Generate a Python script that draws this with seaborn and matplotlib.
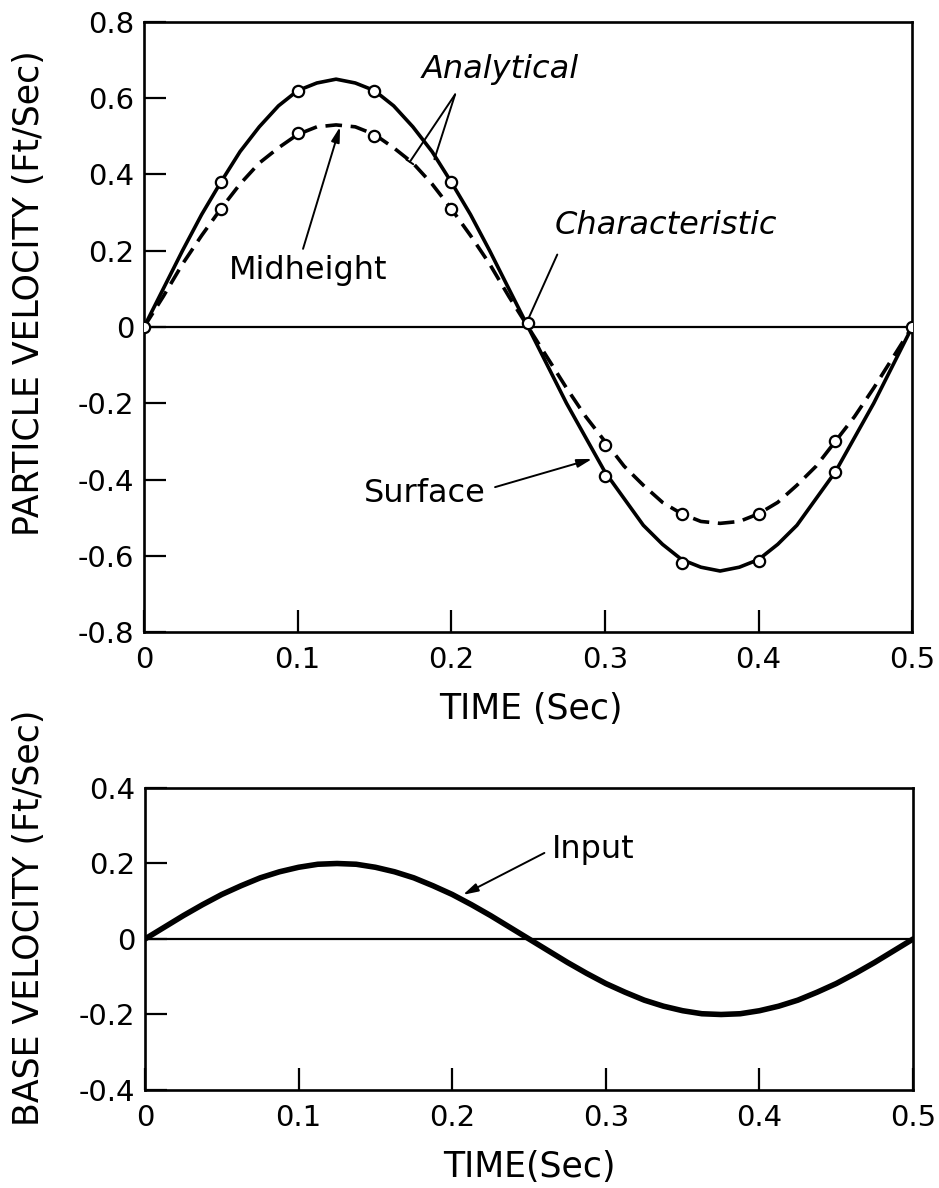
import numpy as np
import pandas as pd
import matplotlib
matplotlib.use("Agg")
import matplotlib.pyplot as plt
import seaborn as sns

# ---------------- data ----------------
t_line = [round(i * 0.0125, 4) for i in range(41)]

surface = [0.0, 0.10, 0.20, 0.295, 0.38, 0.46, 0.525, 0.58, 0.62, 0.64,
           0.65, 0.64, 0.62, 0.58, 0.525, 0.46, 0.38, 0.295, 0.20, 0.10,
           0.0, -0.10, -0.20, -0.29, -0.38, -0.45, -0.52, -0.57, -0.61, -0.63,
           -0.64, -0.63, -0.61, -0.57, -0.52, -0.45, -0.38, -0.29, -0.20, -0.10, 0.0]

midheight = [0.0, 0.08, 0.165, 0.24, 0.31, 0.375, 0.43, 0.47, 0.505, 0.525,
             0.53, 0.525, 0.505, 0.47, 0.43, 0.375, 0.31, 0.24, 0.165, 0.08,
             0.0, -0.08, -0.16, -0.235, -0.30, -0.365, -0.415, -0.46, -0.49, -0.51,
             -0.515, -0.51, -0.49, -0.46, -0.415, -0.365, -0.30, -0.235, -0.16, -0.08, 0.0]

base_input = [0.0, 0.031, 0.062, 0.091, 0.118, 0.141, 0.162, 0.178, 0.19, 0.198,
              0.2, 0.198, 0.19, 0.178, 0.162, 0.141, 0.118, 0.091, 0.062, 0.031,
              0.0, -0.031, -0.062, -0.091, -0.118, -0.141, -0.162, -0.178, -0.19, -0.198,
              -0.2, -0.198, -0.19, -0.178, -0.162, -0.141, -0.118, -0.091, -0.062, -0.031, 0.0]

t_surf_pts = [0.0, 0.05, 0.10, 0.15, 0.20, 0.25, 0.30, 0.35, 0.40, 0.45, 0.50]
surf_pts = [0.0, 0.38, 0.62, 0.62, 0.38, 0.01, -0.39, -0.62, -0.615, -0.38, 0.0]

t_mid_pts = [0.05, 0.10, 0.15, 0.20, 0.30, 0.35, 0.40, 0.45]
mid_pts = [0.31, 0.51, 0.50, 0.31, -0.31, -0.49, -0.49, -0.30]

top_yticks = [0.8, 0.6, 0.4, 0.2, 0.0, -0.2, -0.4, -0.6, -0.8]
top_ylabels = ["0.8", "0.6", "0.4", "0.2", "0", "-0.2", "-0.4", "-0.6", "-0.8"]
bot_yticks = [0.4, 0.2, 0.0, -0.2, -0.4]
bot_ylabels = ["0.4", "0.2", "0", "-0.2", "-0.4"]
xticks = [0.0, 0.1, 0.2, 0.3, 0.4, 0.5]
xlabels = ["0", "0.1", "0.2", "0.3", "0.4", "0.5"]

# ---------------- style ----------------
sns.set_style("ticks")
plt.rcParams["font.family"] = ["DejaVu Sans"]
plt.rcParams["text.color"] = "black"
plt.rcParams["axes.labelcolor"] = "black"
plt.rcParams["axes.edgecolor"] = "black"
plt.rcParams["axes.linewidth"] = 1.9

fig = plt.figure(figsize=(9.39, 11.88), dpi=100)
ax1 = fig.add_axes([0.1534, 0.468, 0.818, 0.5135])
ax2 = fig.add_axes([0.1544, 0.0825, 0.818, 0.2542])

df_line = pd.DataFrame({"t": t_line, "surface": surface,
                        "midheight": midheight, "input": base_input})

ANN = 23
LAB = 25
TCK = 21

# ---- top panel ----
ax1.axhline(0, color="black", lw=1.6, zorder=1)
sns.lineplot(data=df_line, x="t", y="surface", ax=ax1, color="black",
             lw=2.6, zorder=2)
sns.lineplot(data=df_line, x="t", y="midheight", ax=ax1, color="black",
             lw=2.6, zorder=2)
ax1.lines[-1].set_dashes([4.6, 2.4])
sns.scatterplot(x=t_surf_pts, y=surf_pts, ax=ax1, marker="o", s=66,
                facecolor="white", edgecolor="black", linewidth=1.6, zorder=4)
sns.scatterplot(x=t_mid_pts, y=mid_pts, ax=ax1, marker="o", s=66,
                facecolor="white", edgecolor="black", linewidth=1.6, zorder=4)

ax1.set_xlim(0, 0.5)
ax1.set_ylim(-0.8, 0.8)
ax1.set_xticks(xticks, xlabels)
ax1.set_yticks(top_yticks, top_ylabels)
ax1.set_xlabel("TIME (Sec)", fontsize=LAB)
ax1.set_ylabel("PARTICLE VELOCITY (Ft/Sec)", fontsize=LAB)
ax1.xaxis.set_label_coords(0.503, -0.098)
ax1.yaxis.set_label_coords(-0.128, 0.555)

# annotations top
ax1.text(0.2322, 0.675, "Analytical", fontsize=ANN, style="italic", ha="center", va="center")
ax1.annotate("", xy=(0.173, 0.433), xytext=(0.2025, 0.61),
             arrowprops=dict(arrowstyle="-[,widthB=0.3,lengthB=0.0",
                             color="black", lw=1.4, shrinkA=0, shrinkB=0))
ax1.annotate("", xy=(0.189, 0.44), xytext=(0.2025, 0.61),
             arrowprops=dict(arrowstyle="-", color="black", lw=1.4, shrinkA=0, shrinkB=0))
ax1.text(0.107, 0.147, "Midheight", fontsize=ANN, ha="center", va="center")
ax1.annotate("", xy=(0.1276, 0.525), xytext=(0.1035, 0.205),
             arrowprops=dict(arrowstyle="-|>,head_length=0.9,head_width=0.25",
                             color="black", lw=1.4, shrinkA=0, shrinkB=0))
ax1.text(0.34, 0.265, "Characteristic", fontsize=ANN, style="italic", ha="center", va="center")
ax1.annotate("", xy=(0.25, 0.02), xytext=(0.269, 0.19),
             arrowprops=dict(arrowstyle="-", color="black", lw=1.4, shrinkA=0, shrinkB=0))
ax1.text(0.2225, -0.438, "Surface", fontsize=ANN, ha="right", va="center")
ax1.annotate("", xy=(0.2917, -0.346), xytext=(0.2285, -0.42),
             arrowprops=dict(arrowstyle="-|>,head_length=0.9,head_width=0.25",
                             color="black", lw=1.4, shrinkA=0, shrinkB=0))

# ---- bottom panel ----
ax2.axhline(0, color="black", lw=1.6, zorder=1)
sns.lineplot(data=df_line, x="t", y="input", ax=ax2, color="black",
             lw=4.0, zorder=2)
ax2.set_xlim(0, 0.5)
ax2.set_ylim(-0.4, 0.4)
ax2.set_xticks(xticks, xlabels)
ax2.set_yticks(bot_yticks, bot_ylabels)
ax2.set_xlabel("TIME(Sec)", fontsize=LAB)
ax2.set_ylabel("BASE VELOCITY (Ft/Sec)", fontsize=LAB)
ax2.xaxis.set_label_coords(0.5, -0.2)
ax2.yaxis.set_label_coords(-0.129, 0.57)

ax2.text(0.265, 0.236, "Input", fontsize=ANN, ha="left", va="center")
ax2.annotate("", xy=(0.207, 0.117), xytext=(0.26, 0.228),
             arrowprops=dict(arrowstyle="-|>,head_length=0.9,head_width=0.25",
                             color="black", lw=1.4, shrinkA=0, shrinkB=0))

for ax in (ax1, ax2):
    for s in ax.spines.values():
        s.set_visible(True)
        s.set_linewidth(1.9)
        s.set_color("black")
    ax.tick_params(axis="both", direction="in", labelsize=TCK, width=1.6,
                   color="black", labelcolor="black", length=16)
    ax.tick_params(axis="x", pad=10)
    ax.tick_params(axis="y", pad=7)

fig.savefig("out.png", dpi=100)
